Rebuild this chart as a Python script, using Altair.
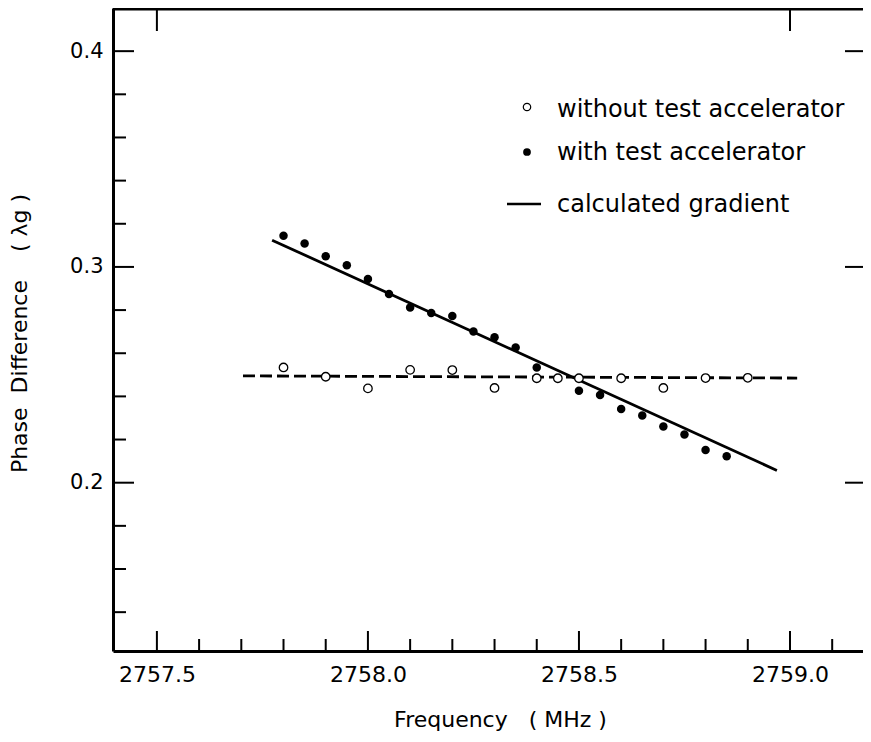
import altair as alt
import pandas as pd

# ---- data ----
FREQ_WITH = [2757.80, 2757.85, 2757.90, 2757.95, 2758.00, 2758.05, 2758.10, 2758.15,
             2758.20, 2758.25, 2758.30, 2758.35, 2758.40, 2758.50, 2758.55, 2758.60,
             2758.65, 2758.70, 2758.75, 2758.80, 2758.85]
PHASE_WITH = [0.3145, 0.3109, 0.3049, 0.3008, 0.2944, 0.2874, 0.2812, 0.2787,
              0.2773, 0.2701, 0.2674, 0.2627, 0.2534, 0.2426, 0.2406, 0.2342,
              0.2311, 0.2260, 0.2223, 0.2152, 0.2123]

FREQ_WITHOUT = [2757.80, 2757.90, 2758.00, 2758.10, 2758.20, 2758.30, 2758.40,
                2758.45, 2758.50, 2758.60, 2758.70, 2758.80, 2758.90]
PHASE_WITHOUT = [0.2534, 0.2491, 0.2437, 0.2523, 0.2522, 0.2439, 0.2484,
                 0.2484, 0.2484, 0.2484, 0.2439, 0.2485, 0.2486]

FIT_FREQ = [2757.773, 2758.969]
FIT_PHASE = [0.3124, 0.2057]

BASE_FREQ = [2757.704, 2759.017]
BASE_PHASE = [0.2495, 0.2485]

X_MAJOR = [2757.5, 2758.0, 2758.5, 2759.0]
X_MINOR = [2757.6, 2757.7, 2757.8, 2757.9, 2758.1, 2758.2, 2758.3, 2758.4,
           2758.6, 2758.7, 2758.8, 2758.9, 2759.1]
Y_MAJOR = [0.2, 0.3, 0.4]
Y_MINOR = [0.14, 0.16, 0.18, 0.22, 0.24, 0.26, 0.28, 0.32, 0.34, 0.36, 0.38]
TOP_TICKS = [2757.5, 2759.0]

NB = "\u00a0"
LEGEND_LABELS = ["without test accelerator", "with test accelerator", "calculated gradient"]
X_TITLE = "Frequency" + NB * 3 + "(" + NB + "MHz" + NB + ")"
Y_TITLE = "Phase" + NB * 2 + "Difference" + NB * 4 + "(" + NB + "λg" + NB + ")"

# ---- layout ----
W, H = 750, 643
FONT = "DejaVu Sans"
X_DOMAIN = [2757.396, 2759.173]
Y_DOMAIN = [0.122, 0.420]

xs = alt.Scale(domain=X_DOMAIN, nice=False, zero=False)
ys = alt.Scale(domain=Y_DOMAIN, nice=False, zero=False)

x_axis = alt.Axis(values=X_MAJOR, format=".1f", ticks=False, grid=False,
                  domainColor="black", domainWidth=3, labelFont=FONT, labelFontSize=22,
                  labelColor="black", labelPadding=13, title=X_TITLE, titleFont=FONT,
                  titleFontSize=22, titleFontWeight="normal", titleColor="black",
                  titleX=387, titleY=75, titleAlign="center", titleBaseline="alphabetic",
                  labelFlush=False)
y_axis = alt.Axis(values=Y_MAJOR, format=".1f", ticks=False, grid=False,
                  domainColor="black", domainWidth=3, labelFont=FONT, labelFontSize=21,
                  labelColor="black", labelPadding=10, title=Y_TITLE, titleFont=FONT,
                  titleFontSize=22, titleFontWeight="normal", titleColor="black",
                  titleX=-87, titleY=325, titleAngle=270, titleAlign="center",
                  titleBaseline="alphabetic", labelFlush=False)

with_df = pd.DataFrame({"f": FREQ_WITH, "p": PHASE_WITH})
without_df = pd.DataFrame({"f": FREQ_WITHOUT, "p": PHASE_WITHOUT})
fit_df = pd.DataFrame({"f": FIT_FREQ, "p": FIT_PHASE})
base_df = pd.DataFrame({"f": BASE_FREQ, "p": BASE_PHASE})

X = alt.X("f:Q", scale=xs, axis=x_axis)
Y = alt.Y("p:Q", scale=ys, axis=y_axis)

fit = alt.Chart(fit_df).mark_line(color="black", strokeWidth=2.8).encode(x=X, y=Y)
base = alt.Chart(base_df).mark_line(color="black", strokeWidth=2.8,
                                    strokeDash=[12, 5]).encode(x=X, y=Y)
opens = alt.Chart(without_df).mark_point(shape="circle", filled=True, fill="white",
                                         stroke="black", strokeWidth=1.3, size=72,
                                         opacity=1).encode(x=X, y=Y)
dots = alt.Chart(with_df).mark_circle(color="black", size=72, opacity=1).encode(x=X, y=Y)

# ---- inward ticks ----
xt_major = pd.DataFrame({"f": X_MAJOR})
xt_minor = pd.DataFrame({"f": X_MINOR})
yt_major = pd.DataFrame({"p": Y_MAJOR})
yt_minor = pd.DataFrame({"p": Y_MINOR})
top_df = pd.DataFrame({"f": TOP_TICKS})

bx_major = alt.Chart(xt_major).mark_rule(color="black", strokeWidth=2).encode(
    x=X, y=alt.value(H), y2=alt.value(H - 20))
bx_minor = alt.Chart(xt_minor).mark_rule(color="black", strokeWidth=2).encode(
    x=X, y=alt.value(H), y2=alt.value(H - 12))
ly_major = alt.Chart(yt_major).mark_rule(color="black", strokeWidth=2).encode(
    y=Y, x=alt.value(0), x2=alt.value(21))
ly_minor = alt.Chart(yt_minor).mark_rule(color="black", strokeWidth=2).encode(
    y=Y, x=alt.value(0), x2=alt.value(13))
ry_major = alt.Chart(yt_major).mark_rule(color="black", strokeWidth=2).encode(
    y=Y, x=alt.value(W - 18), x2=alt.value(W))
top_ticks = alt.Chart(top_df).mark_rule(color="black", strokeWidth=2).encode(
    x=X, y=alt.value(0), y2=alt.value(23))
top_frame = alt.Chart(pd.DataFrame({"t": [0]})).mark_rule(color="black", strokeWidth=3).encode(
    x=alt.value(0), x2=alt.value(W), y=alt.value(1))

# ---- legend ----
one = pd.DataFrame({"t": [0]})
leg_open = alt.Chart(one).mark_point(shape="circle", filled=True, fill="white", stroke="black",
                                     strokeWidth=1.2, size=55, opacity=1).encode(
    x=alt.value(414), y=alt.value(99))
leg_dot = alt.Chart(one).mark_circle(color="black", size=60, opacity=1).encode(
    x=alt.value(414), y=alt.value(144))
leg_line = alt.Chart(one).mark_rule(color="black", strokeWidth=2.5).encode(
    x=alt.value(394), x2=alt.value(428), y=alt.value(196))
leg_texts = [
    alt.Chart(one).mark_text(font=FONT, fontSize=24, align="left", baseline="alphabetic",
                             color="black").encode(
        x=alt.value(444), y=alt.value(yy), text=alt.value(lab))
    for lab, yy in zip(LEGEND_LABELS, [109, 152, 204])
]

chart = alt.layer(
    fit, base, opens, dots,
    bx_major, bx_minor, ly_major, ly_minor, ry_major, top_ticks, top_frame,
    leg_open, leg_dot, leg_line, *leg_texts
).properties(
    width=W, height=H,
    autosize=alt.AutoSizeParams(type="none"),
    padding={"left": 105, "top": 0, "right": 0, "bottom": 80},
    background="white",
).configure_view(stroke=None)

chart.save("out.html", embed_options={"renderer": "svg", "actions": False})
